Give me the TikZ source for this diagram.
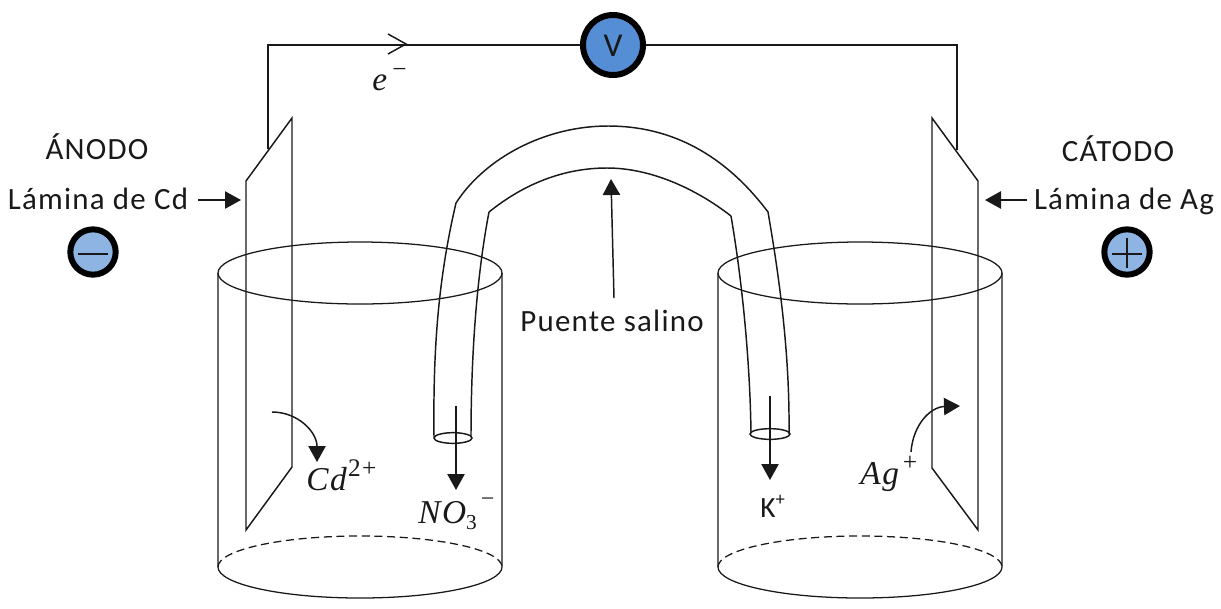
\documentclass[tikz,border=0pt]{standalone}
\usepackage{fontspec}
\setmainfont{Carlito}
\newfontfamily\lbl[LetterSpace=4]{Carlito}
\newfontfamily\ion[LetterSpace=5,ItalicFont={Liberation Serif Italic}]{Liberation Serif}
\usetikzlibrary{arrows.meta,shapes.geometric}
\definecolor{vblue}{RGB}{85,142,213}
\definecolor{sblue}{RGB}{142,180,227}
\newcommand{\sups}[1]{\raisebox{0.42em}{\fontsize{19}{19}\selectfont\upshape #1}}
\newcommand{\subs}[1]{\raisebox{-0.2em}{\fontsize{16}{16}\selectfont\upshape #1}}
\tikzset{
  wire/.style={line width=1.1pt,black!90},
  thin wire/.style={line width=0.95pt,black!90},
  solid head/.style={-{Triangle[length=12pt,width=13pt]},line width=1.1pt,black!90},
  meter/.style={circle,draw=black,line width=4.5pt,inner sep=0pt,minimum size=#1},
  tube end/.style={draw=black!90,line width=1.1pt,ellipse,inner sep=0pt,minimum height=8pt},
  label text/.style={anchor=base,inner sep=0pt,font=\fontsize{23.2}{25}\selectfont\lbl,text=black!90},
  ion text/.style={anchor=base west,inner sep=0pt,font=\fontsize{25}{26}\selectfont\ion\itshape,text=black!90},
}
\begin{document}
\begin{tikzpicture}[x=0.75pt,y=-0.75pt]
\useasboundingbox (0,0) rectangle (1221,608);
% beakers
\foreach \n/\c in {L/360,R/860}{
  \draw[thin wire] (\c,273) ellipse [x radius=142,y radius=31];
  \draw[thin wire] (\c-142,273) -- (\c-142,567) arc[start angle=180,end angle=360,x radius=142,y radius=-31] -- (\c+142,273);
  \draw[thin wire,dash pattern=on 6pt off 3.5pt] (\c-142,567) arc[start angle=180,end angle=360,x radius=142,y radius=31];
}
% plates
\coordinate (LT) at (292,118); \coordinate (LA) at (246,181); \coordinate (LB) at (246,530); \coordinate (LC) at (292,467);
\coordinate (RT) at (932,118); \coordinate (RA) at (978,181); \coordinate (RB) at (978,530); \coordinate (RC) at (932,468);
\draw[wire] (LC) -- (LT) -- (LA) -- (LB) -- (LC);
\draw[wire] (RC) -- (RT) -- (RA) -- (RB) -- (RC);
% voltmeter and wire
\node[meter=45pt,fill=vblue] (V) at (613,45) {};
\node[anchor=center,inner sep=0pt,font=\fontsize{25}{26}\selectfont,text=black!90] (Vt) at (613,46) {V};
\coordinate (wireL) at (268,149); \coordinate (wireR) at (957,150);
\draw[wire] (wireL) |- (V.west);
\draw[wire] (V.east) -| (wireR);
\coordinate (chevA) at (388,34); \coordinate (chevT) at (406,44); \coordinate (chevB) at (388,54);
\draw[wire] (chevA) -- (chevT) -- (chevB);
\node[ion text] (elec) at (372,90) {e\hspace{4pt}\sups{\raisebox{-1pt}{−}}};
% salt bridge
\coordinate (oL0) at (434,437); \coordinate (oL1) at (456,203); \coordinate (oTop) at (608,126); \coordinate (oR1) at (768,212); \coordinate (oR0) at (789,434);
\coordinate (iL0) at (471,437); \coordinate (iL1) at (489,212); \coordinate (iTop) at (607,168); \coordinate (iR1) at (731,216); \coordinate (iR0) at (751,433);
\draw[wire] (oL0) .. controls (433,350) and (438,280) .. (oL1)
  .. controls (485,158) and (545,126) .. (oTop)
  .. controls (672,126) and (725,155) .. (oR1)
  .. controls (778,270) and (790,350) .. (oR0);
\draw[wire] (iL0) .. controls (471,360) and (476,280) .. (iL1);
\draw[wire] (iL1) .. controls (525,183) and (565,168) .. (iTop)
  .. controls (650,168) and (695,188) .. (iR1);
\draw[wire] (iR1) .. controls (742,280) and (750,360) .. (iR0);
\node[tube end,minimum width=28.5pt] (endL) at (453,438) {};
\node[tube end,minimum width=30pt] (endR) at (770,434) {};
% labels
\node[label text] (anodo) at (97,159) {ÁNODO};
\node[label text] (lamCd) at (98,209) {Lámina de Cd};
\node[label text] (catodo) at (1118,161) {CÁTODO};
\node[label text] (lamAg) at (1124,209) {Lámina de Ag};
\node[label text] (puente) at (612,331) {Puente salino};
\coordinate (lamCdEnd) at (198,200); \coordinate (lamAgEnd) at (1027,200);
\coordinate (lamCdTip) at (241,200); \coordinate (lamAgTip) at (985,200);
\draw[solid head] (lamCdEnd) -- (lamCdTip);
\draw[solid head] (lamAgEnd) -- (lamAgTip);
% sign circles
\node[meter=34pt,fill=sblue] (minus) at (93,252) {};
\draw[wire] ([xshift=-11.5pt,yshift=-1.5pt]minus.center) -- ([xshift=11.5pt,yshift=-1.5pt]minus.center);
\node[meter=34pt,fill=sblue] (plus) at (1127,252) {};
\draw[wire] ([xshift=-11.5pt,yshift=-1.5pt]plus.center) -- ([xshift=11.5pt,yshift=-1.5pt]plus.center);
\draw[wire] ([yshift=10.5pt]plus.center) -- ([yshift=-12pt]plus.center);
% puente arrow
\coordinate (pTail) at (614,298); \coordinate (pTip) at (611,179);
\draw[solid head] (pTail) -- (pTip);
% ions
\node[ion text] (cd) at (306,490) {Cd\hspace{1pt}\sups{2+}};
\node[ion text] (no) at (418,523) {NO\subs{3}\hspace{3pt}\raisebox{0.5em}{\fontsize{18}{18}\selectfont\upshape −}};
\node[ion text] (ag) at (860,484) {Ag\hspace{3pt}\sups{+}};
\node[anchor=base west,inner sep=0pt,font=\fontsize{22}{23}\selectfont,text=black!90] (k) at (760,517) {K\raisebox{0.4em}{\fontsize{14}{14}\selectfont +}};
\coordinate (cdS) at (272,412); \coordinate (cdT) at (317,462);
\draw[solid head] (cdS) .. controls (298,412) and (317,432) .. (cdT);
\coordinate (noS) at (456,406); \coordinate (noT) at (456,490);
\draw[solid head] (noS) -- (noT);
\coordinate (kS) at (770,396); \coordinate (kT) at (770,480);
\draw[solid head] (kS) -- (kT);
\coordinate (agS) at (911,452); \coordinate (agT) at (960,406);
\draw[solid head] (agS) .. controls (913,425) and (930,407) .. (agT);
\end{tikzpicture}
\end{document}
